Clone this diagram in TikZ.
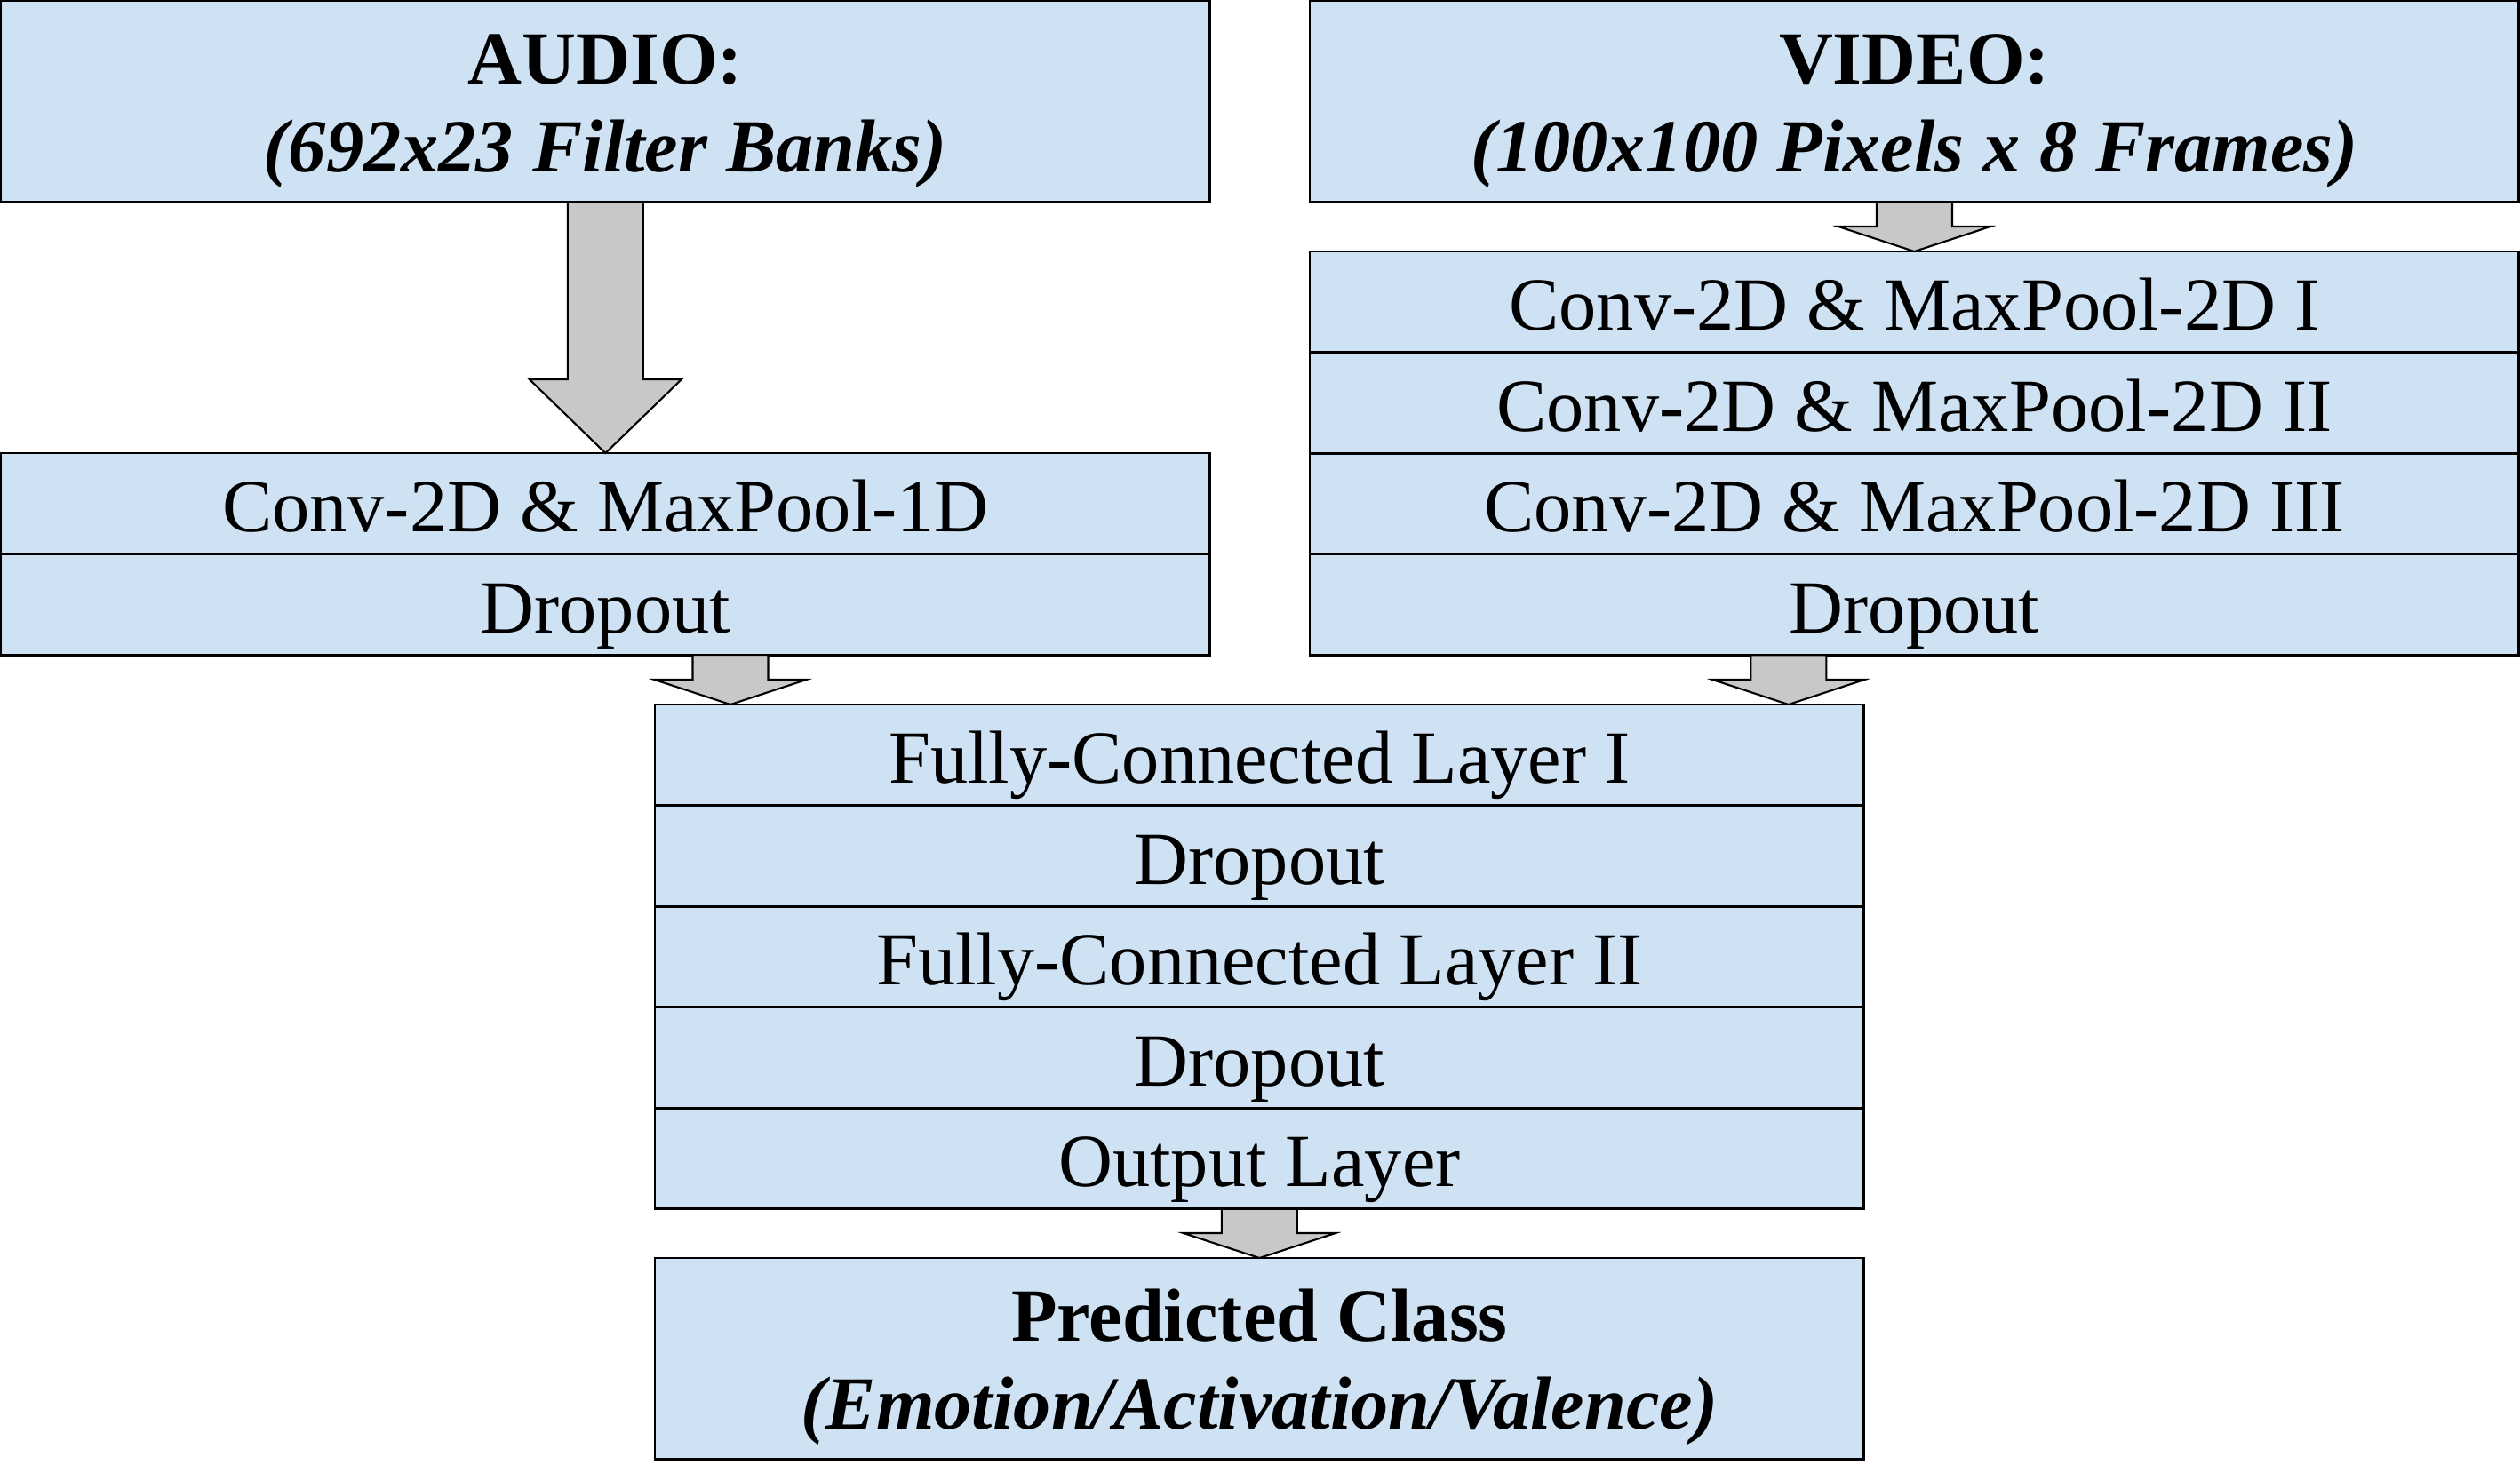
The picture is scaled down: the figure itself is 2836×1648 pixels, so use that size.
\documentclass[tikz,border=0pt]{standalone}
\usepackage{fontspec}
\setmainfont{Liberation Serif}
\usetikzlibrary{positioning,calc}
\definecolor{layerblue}{RGB}{207,226,243}
\definecolor{arrowgray}{RGB}{200,200,200}
\newcommand{\blockarrow}[3]{%
  \draw[blockarrow] let \p1=(#1), \p2=(#2) in
    (\x2-0.425cm,\y1) -- (\x2+0.425cm,\y1) -- (\x2+0.425cm,\y2+#3*0.01cm)
    -- (\x2+0.855cm,\y2+#3*0.01cm) -- (\x2,\y2) -- (\x2-0.855cm,\y2+#3*0.01cm)
    -- (\x2-0.425cm,\y2+#3*0.01cm) -- cycle;}
\newcommand{\headstrut}{\rule{0pt}{22pt}}
\begin{document}
\begin{tikzpicture}[x=0.01cm,y=0.01cm]
\tikzstyle{box}=[draw=black, line width=0.8pt, fill=layerblue, minimum width=13.6cm, inner sep=0pt, outer sep=0pt, font=\fontsize{24}{28}\selectfont]
\tikzstyle{layer}=[box, minimum height=1.135cm, text height=18pt, text depth=0pt]
\tikzstyle{io}=[box, minimum height=2.26cm, align=center]
\tikzstyle{blockarrow}=[draw=black, line width=0.6pt, fill=arrowgray, line join=miter]
\useasboundingbox (0,0) rectangle (2836,-1648);
\node[io, anchor=north west] (audio) at (1,-1) {\headstrut\textbf{AUDIO:}\\\textbf{\textit{(692x23 Filter Banks)}}};
\node[io, anchor=north west] (video) at (1474,-1) {\headstrut\textbf{VIDEO:}\\\textbf{\textit{(100x100 Pixels x 8 Frames)}}};
\node[layer, anchor=north west] (aconv) at (1,-510) {Conv-2D \& MaxPool-1D};
\node[layer, below=0pt of aconv] (adrop) {Dropout};
\node[layer, anchor=north west] (vconv1) at (1474,-283) {Conv-2D \& MaxPool-2D I};
\node[layer, below=0pt of vconv1] (vconv2) {Conv-2D \& MaxPool-2D II};
\node[layer, below=0pt of vconv2] (vconv3) {Conv-2D \& MaxPool-2D III};
\node[layer, below=0pt of vconv3] (vdrop) {Dropout};
\node[layer, anchor=north west] (fc1) at (737,-793) {Fully-Connected Layer I};
\node[layer, below=0pt of fc1] (drop1) {Dropout};
\node[layer, below=0pt of drop1] (fc2) {Fully-Connected Layer II};
\node[layer, below=0pt of fc2] (drop2) {Dropout};
\node[layer, below=0pt of drop2] (out) {Output Layer};
\node[io, anchor=north west] (pred) at (737,-1416) {\headstrut\textbf{Predicted Class}\\\textbf{\textit{(Emotion/Activation/Valence)}}};
\coordinate (ain) at ($(fc1.north west)+(85,0)$);
\coordinate (vin) at ($(fc1.north east)+(-85,0)$);
\blockarrow{audio.south}{aconv.north}{83}
\blockarrow{video.south}{vconv1.north}{28}
\blockarrow{adrop.south}{ain}{28}
\blockarrow{vdrop.south}{vin}{28}
\blockarrow{out.south}{pred.north}{28}
\end{tikzpicture}
\end{document}
